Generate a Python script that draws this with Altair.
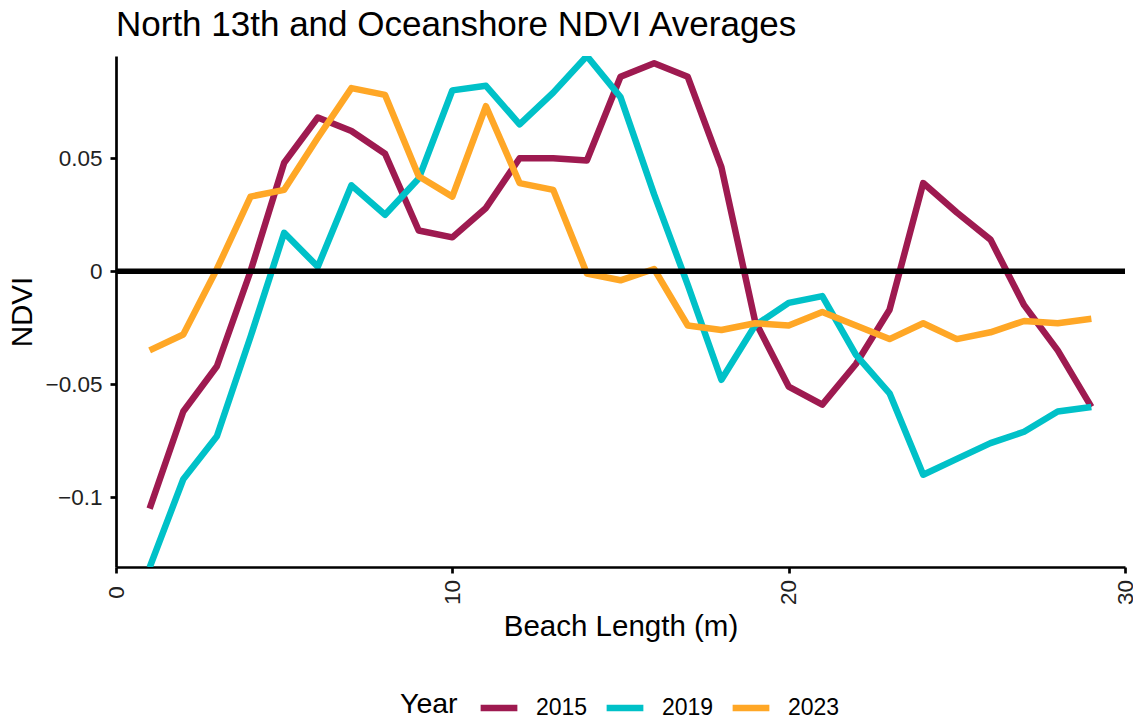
import altair as alt
import pandas as pd

beach_length = list(range(1, 30))
years = ["2015", "2019", "2023"]
colors = ["#9E1A50", "#00C1C8", "#FFA726"]

ndvi_2015 = [-0.105, -0.062, -0.042, 0.000, 0.048, 0.068, 0.062, 0.052, 0.018, 0.015,
             0.028, 0.050, 0.050, 0.049, 0.086, 0.092, 0.086, 0.046, -0.022, -0.051,
             -0.059, -0.041, -0.017, 0.039, 0.026, 0.014, -0.015, -0.035, -0.060]
ndvi_2019 = [-0.131, -0.092, -0.073, -0.029, 0.017, 0.002, 0.038, 0.025, 0.041, 0.080,
             0.082, 0.065, 0.079, 0.0952, 0.077, 0.034, -0.006, -0.048, -0.024, -0.014,
             -0.011, -0.037, -0.054, -0.090, -0.083, -0.076, -0.071, -0.062, -0.060]
ndvi_2023 = [-0.035, -0.028, 0.001, 0.033, 0.036, 0.059, 0.081, 0.078, 0.042, 0.033,
             0.073, 0.039, 0.036, -0.001, -0.004, 0.001, -0.024, -0.026, -0.023, -0.024,
             -0.018, -0.024, -0.030, -0.023, -0.030, -0.027, -0.022, -0.023, -0.021]

x_ticks = [0, 10, 20, 30]
y_ticks = [-0.1, -0.05, 0, 0.05]
y_domain = [-0.1308, 0.0952]
x_domain = [0, 30]

rows = []
for yr, vals in zip(years, [ndvi_2015, ndvi_2019, ndvi_2023]):
    for xv, v in zip(beach_length, vals):
        rows.append({"Beach Length": xv, "NDVI": v, "Year": yr})
df = pd.DataFrame(rows)

FONT = "Liberation Sans"

x_scale = alt.Scale(domain=x_domain, nice=False, zero=False)
y_scale = alt.Scale(domain=y_domain, nice=False, zero=False)

lines = alt.Chart(df).mark_line(strokeWidth=6.5, strokeJoin="round", clip=True).encode(
    x=alt.X("Beach Length:Q", scale=x_scale,
            axis=alt.Axis(values=x_ticks, title="Beach Length (m)", labelAngle=270,
                          labelAlign="center", labelBaseline="middle", labelPadding=19,
                          titleY=68, titleBaseline="alphabetic")),
    y=alt.Y("NDVI:Q", scale=y_scale,
            axis=alt.Axis(values=y_ticks, format=".2~f", title="NDVI", titleX=-85,
                          titleBaseline="alphabetic", labelPadding=8)),
    color=alt.Color("Year:N", scale=alt.Scale(domain=years, range=colors),
                    legend=alt.Legend(orient="none", legendX=284, legendY=630,
                                      direction="horizontal", titleOrient="left",
                                      titleAnchor="middle", titleBaseline="middle",
                                      symbolType="stroke", symbolStrokeWidth=6.5,
                                      symbolSize=1350, labelFontSize=23, titleFontSize=28.5,
                                      titleFontWeight="normal", labelOffset=15,
                                      columnPadding=5, titlePadding=19, title="Year",
                                      labelColor="black", titleColor="black")),
)

zero_df = pd.DataFrame({"zero": [0]})
rule = alt.Chart(zero_df).mark_rule(color="black", strokeWidth=5.5).encode(
    y=alt.datum(0)
)

chart = alt.layer(lines, rule).properties(
    width=1009, height=511,
    title=alt.TitleParams("North 13th and Oceanshore NDVI Averages", anchor="start",
                          fontSize=35, fontWeight="normal", color="black", offset=13,
                          frame="group", font=FONT),
    autosize=alt.AutoSizeParams(type="none"),
    padding={"left": 108, "top": 48, "right": 8, "bottom": 148},
).configure(font=FONT).configure_view(stroke=None).configure_axis(
    grid=False, domainColor="black", domainWidth=2.7, tickColor="black", tickWidth=2.7,
    tickSize=6, labelFontSize=22.5, labelColor="#222", titleFontSize=29.5,
    titleFontWeight="normal", titleColor="black", labelFont=FONT, titleFont=FONT,
).configure_legend(labelFont=FONT, titleFont=FONT)

chart.save("out.html", embed_options={"renderer": "svg", "actions": False})
